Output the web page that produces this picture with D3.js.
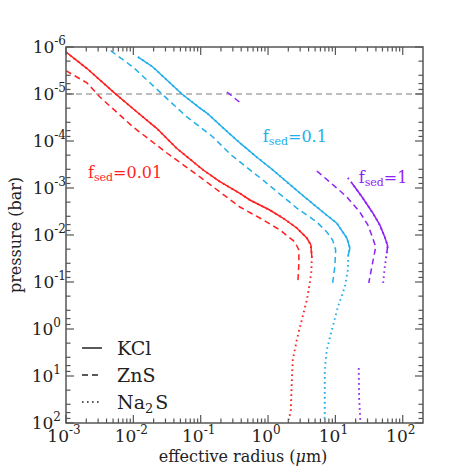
<!DOCTYPE html>
<html>
<head>
<meta charset="utf-8">
<script src="https://cdn.jsdelivr.net/npm/d3@7"></script>
<style>
  html, body { margin: 0; padding: 0; background: #fff; }
  svg { display: block; }
  text { font-family: "DejaVu Serif", serif; }
</style>
</head>
<body>
<div id="chart"></div>
<script>
// ---------------- data (radius in µm, pressure in bar) ----------------
const fsedValues = ["0.01", "0.1", "1"];
const species = ["KCl", "ZnS", "Na2S"];
const xTickExponents = [-3, -2, -1, 0, 1, 2];
const yTickExponents = [-6, -5, -4, -3, -2, -1, 0, 1, 2];
const referencePressure = 1e-5;

// fsed = 0.01 (red)
const kcl_f001 = [[0.001,1.28e-6],[0.00203,2.84e-6],[0.00533,9.7e-6],[0.0112,2.38e-5],[0.0222,5.37e-5],[0.0439,1.43e-4],[0.109,4.14e-4],[0.193,7.35e-4],[0.382,1.3e-3],[0.537,1.8e-3],[1.06,2.94e-3],[1.66,4.35e-3],[2.67,7.1e-3],[3.77,0.0116],[4.32,0.0163],[4.47,0.0294]];
const zns_f001 = [[0.001,3.2e-6],[0.00205,5.8e-6],[0.00319,1.16e-5],[0.00986,5.0e-5],[0.0315,1.8e-4],[0.0973,5.8e-4],[0.382,2.54e-3],[0.755,4.35e-3],[1.5,7.8e-3],[2.5,0.0141],[2.87,0.0208],[2.87,0.0394],[2.77,0.105]];
const na2sLower_f001 = [[4.4,0.06],[4.17,0.105],[3.77,0.241],[3.17,0.644],[2.67,1.71],[2.33,4.57],[2.25,14.1],[2.18,52.8],[2.04,86]];

// fsed = 0.1 (blue)
const kcl_f01 = [[0.0117,1.63e-6],[0.0195,2.66e-6],[0.0526,1.0e-5],[0.0973,1.99e-5],[0.124,2.54e-5],[0.193,4.57e-5],[0.382,1.1e-4],[0.706,2.3e-4],[1.18,4.14e-4],[2.97,1.28e-3],[6.5,3.24e-3],[10.5,5.6e-3],[14.8,0.0116],[16.4,0.0189],[15.5,0.027]];
const zns_f01 = [[0.0046,1.2e-6],[0.00986,2.66e-6],[0.0266,1.0e-5],[0.0624,3.08e-5],[0.0973,5.0e-5],[0.152,8.2e-5],[0.285,2.0e-4],[0.838,6.76e-4],[2.67,2.67e-3],[5.3,5.3e-3],[7.45,8.6e-3],[9.1,0.0128],[10.1,0.0208],[9.8,0.048],[9.1,0.105]];
const na2sLower_f01 = [[15.3,0.0556],[13.8,0.128],[10.9,0.34],[8.85,1.05],[7.45,2.8],[6.96,7.45],[6.96,61],[6.9,86]];

// fsed = 1 (purple)
const kcl_f1 = [[17.5,7.8e-4],[19.4,9.5e-4],[25.5,1.63e-3],[35.9,3.4e-3],[45.6,6.1e-3],[54.1,0.011],[59.8,0.0171],[57.9,0.0242]];
const zns_f1 = [[0.245,9.06e-6],[0.408,1.63e-5],null,[5.3,4.35e-4],[8.26,7.45e-4],[14.8,1.55e-3],[23.0,3.24e-3],[30.3,6.1e-3],[35.9,0.0116],[39.7,0.018],[35.9,0.0375],[31.3,0.105]];
const na2sUpper_f1 = [[15.3,6.1e-4]];
const na2sLower_f1 = [[54.1,0.048],[51.2,0.105],null,[22.2,6.8],[22.5,30],[23.5,95]];

// annotation anchors (data coordinates)
const fsedLabelPos = [[0.00212,6.1e-4],[0.838,1.05e-4],[22.2,7.8e-4]];
const colors = ["#ff1f1f", "#22aeea", "#8f22f5"];

// ---------------- layout ----------------
const W = 471, H = 471;
const M = { left: 66, top: 47, right: 48, bottom: 48 };
const x = d3.scaleLog().domain([1e-3, 200]).range([M.left, W - M.right]);
const y = d3.scaleLog().domain([1e-6, 1e2]).range([M.top, H - M.bottom]);

const svg = d3.select("#chart").append("svg").attr("width", W).attr("height", H);

const line = d3.line()
  .defined(d => d !== null)
  .x(d => x(d[0])).y(d => y(d[1]));

svg.append("clipPath").attr("id", "clip")
  .append("rect").attr("x", M.left).attr("y", M.top)
  .attr("width", x.range()[1] - M.left).attr("height", y.range()[1] - M.top);

const plot = svg.append("g").attr("clip-path", "url(#clip)");

// reference pressure line
plot.append("path")
  .attr("d", line([[1e-3, referencePressure], [200, referencePressure]]))
  .attr("fill", "none").attr("stroke", "#a8a8a8").attr("stroke-width", 1.5)
  .attr("stroke-dasharray", "6,4");

const groups = [
  { kcl: kcl_f001, zns: zns_f001, na2s: kcl_f001.concat(na2sLower_f001) },
  { kcl: kcl_f01, zns: zns_f01, na2s: kcl_f01.concat(na2sLower_f01) },
  { kcl: kcl_f1, zns: zns_f1, na2s: na2sUpper_f1.concat(kcl_f1, na2sLower_f1) }
];
const styles = { kcl: null, zns: "6,4", na2s: "1.6,3.4" };

groups.forEach((g, i) => {
  ["zns", "kcl", "na2s"].forEach(k => {
    plot.append("path")
      .attr("d", line(g[k]))
      .attr("fill", "none")
      .attr("stroke", colors[i])
      .attr("stroke-width", k === "na2s" ? 1.9 : 1.5)
      .attr("stroke-dasharray", styles[k]);
  });
});

// ---------------- axes / frame ----------------
const axisColor = "#555";
const frame = svg.append("g");
const x0 = x.range()[0], x1 = x.range()[1], y0 = y.range()[0], y1 = y.range()[1];

function xMinor() {
  const out = [];
  for (let e = -3; e <= 2; e++) for (let m = 2; m <= 9; m++) {
    const v = m * Math.pow(10, e);
    if (v < 200) out.push(v);
  }
  return out;
}
function yMinor() {
  const out = [];
  for (let e = -6; e < 2; e++) for (const m of [2, 4, 6, 8]) out.push(m * Math.pow(10, e));
  return out;
}
const xMaj = xTickExponents.map(e => Math.pow(10, e));
const yMaj = yTickExponents.map(e => Math.pow(10, e));

[[xMaj, 8], [xMinor(), 4.5]].forEach(([vals, len]) => {
  vals.forEach(v => {
    frame.append("line").attr("x1", x(v)).attr("x2", x(v)).attr("y1", y1).attr("y2", y1 - len)
      .attr("stroke", axisColor).attr("stroke-width", 1.2);
    frame.append("line").attr("x1", x(v)).attr("x2", x(v)).attr("y1", y0).attr("y2", y0 + len)
      .attr("stroke", axisColor).attr("stroke-width", 1.2);
  });
});
[[yMaj, 8], [yMinor(), 4.5]].forEach(([vals, len]) => {
  vals.forEach(v => {
    frame.append("line").attr("y1", y(v)).attr("y2", y(v)).attr("x1", x0).attr("x2", x0 + len)
      .attr("stroke", axisColor).attr("stroke-width", 1.2);
    frame.append("line").attr("y1", y(v)).attr("y2", y(v)).attr("x1", x1).attr("x2", x1 - len)
      .attr("stroke", axisColor).attr("stroke-width", 1.2);
  });
});
frame.append("rect").attr("x", x0).attr("y", y0).attr("width", x1 - x0).attr("height", y1 - y0)
  .attr("fill", "none").attr("stroke", axisColor).attr("stroke-width", 1.5);

// tick labels
function powLabel(sel, e) {
  sel.append("tspan").text("10");
  sel.append("tspan").attr("font-size", 12).attr("dy", -8).text(e < 0 ? "-" + (-e) : String(e));
}
xTickExponents.forEach(e => {
  const t = svg.append("text").attr("x", x(Math.pow(10, e)) - 2).attr("y", y1 + 19)
    .attr("text-anchor", "middle").attr("font-size", 17).attr("fill", "#222");
  powLabel(t, e);
});
yTickExponents.forEach(e => {
  const t = svg.append("text").attr("x", x0 - (e < 0 ? 0 : 5)).attr("y", y(Math.pow(10, e)) + 6)
    .attr("text-anchor", "end").attr("font-size", 17).attr("fill", "#222");
  powLabel(t, e);
});

// axis titles
const xt = svg.append("text").attr("x", 243).attr("y", 462).attr("text-anchor", "middle")
  .attr("font-size", 16).attr("fill", "#222");
xt.append("tspan").text("effective radius (");
xt.append("tspan").attr("font-style", "italic").text("μ");
xt.append("tspan").text("m)");
svg.append("text").attr("transform", "translate(21,235) rotate(-90)")
  .attr("text-anchor", "middle").attr("font-size", 16).attr("fill", "#222")
  .text("pressure (bar)");

// fsed labels
fsedValues.forEach((f, i) => {
  const p = fsedLabelPos[i];
  const t = svg.append("text").attr("x", x(p[0])).attr("y", y(p[1]))
    .attr("font-size", 16).attr("fill", colors[i]);
  t.append("tspan").text("f");
  t.append("tspan").attr("font-size", 11).attr("dy", 3).text("sed");
  t.append("tspan").attr("dy", -3).text("=" + f);
});

// legend
const legend = svg.append("g");
species.forEach((s, i) => {
  const ly = 348 + i * 27;
  legend.append("line").attr("x1", 82).attr("x2", 102).attr("y1", ly).attr("y2", ly)
    .attr("stroke", "#222").attr("stroke-width", 1.5)
    .attr("stroke-dasharray", [null, "6,4", "1.6,3.4"][i]);
  const t = legend.append("text").attr("x", 117).attr("y", ly + 7).attr("font-size", 19).attr("fill", "#222");
  if (s === "Na2S") {
    t.append("tspan").text("Na");
    t.append("tspan").attr("font-size", 13).attr("dy", 4).text("2");
    t.append("tspan").attr("dy", -4).attr("dx", 2).text("S");
  } else {
    t.text(s);
  }
});
</script>
</body>
</html>
